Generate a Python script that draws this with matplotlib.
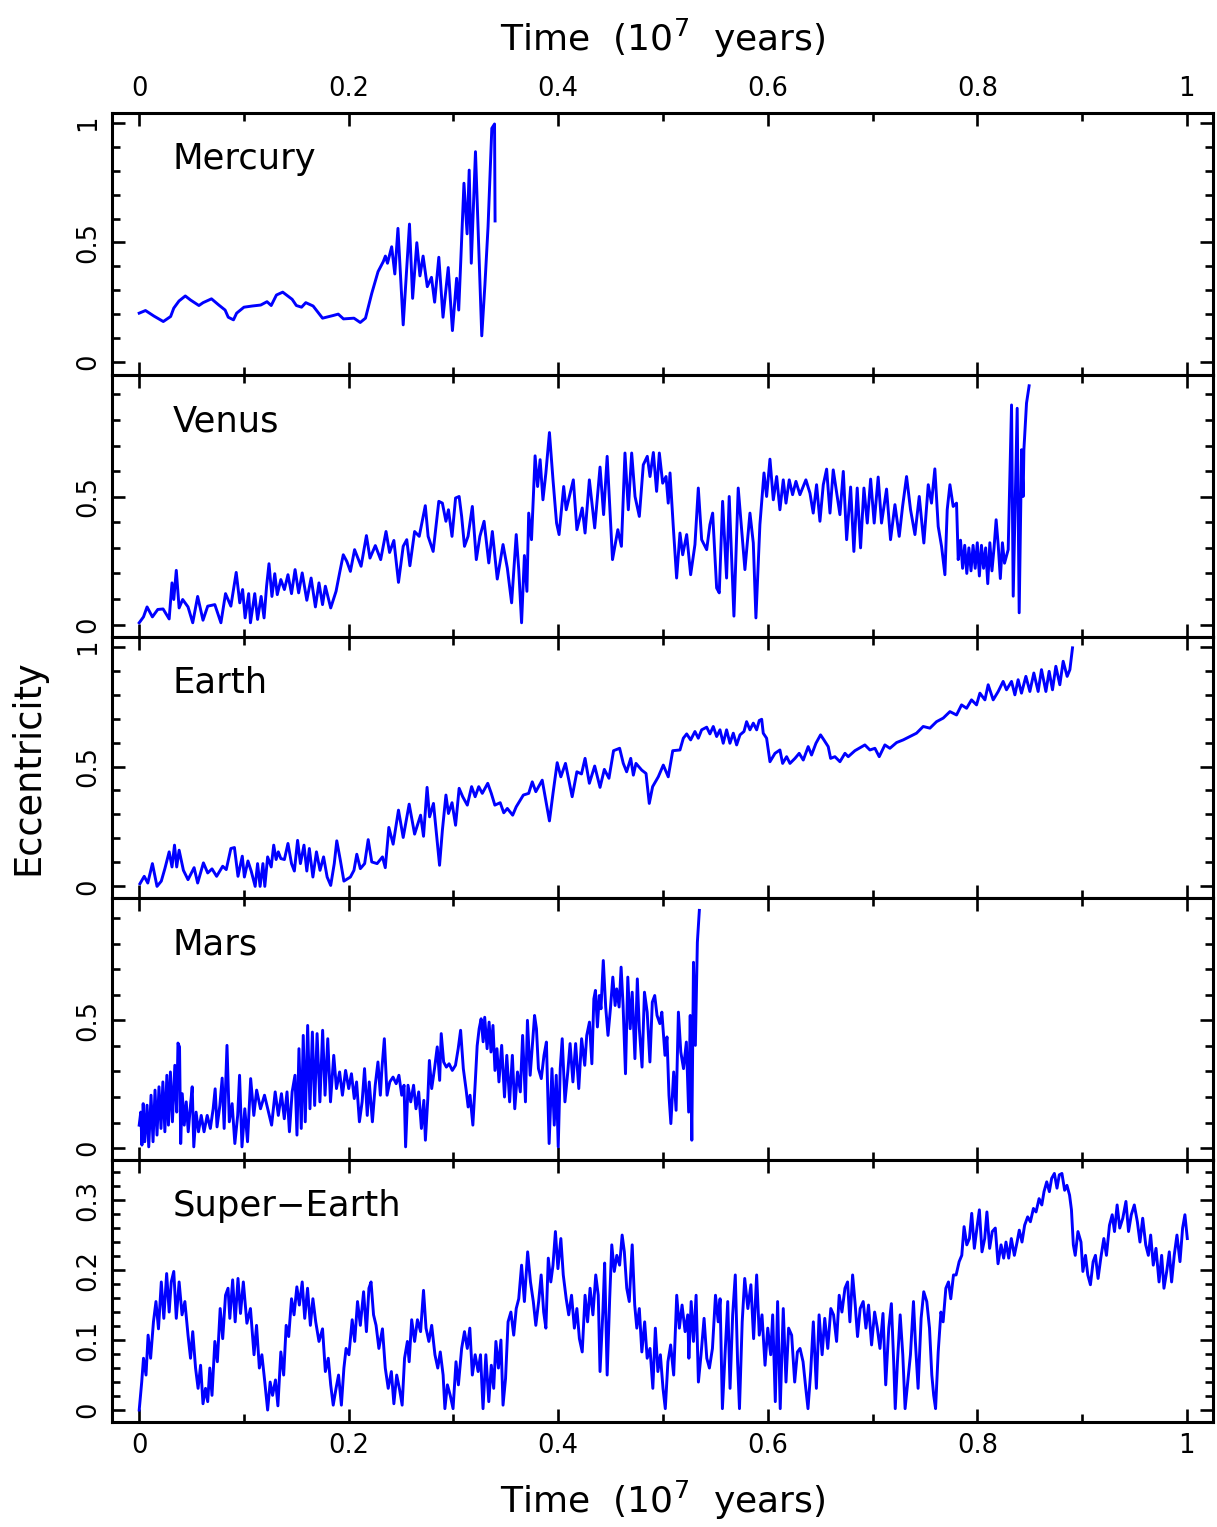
import matplotlib
matplotlib.use('Agg')
import matplotlib.pyplot as plt
from matplotlib.ticker import MultipleLocator, FixedLocator, FixedFormatter

plt.rcParams['font.family'] = 'DejaVu Sans'
plt.rcParams['mathtext.fontset'] = 'dejavusans'

# Tiempo en unidades de 10^7 años, excentricidad
mercury_t = [0.000, 0.006, 0.014, 0.023, 0.030, 0.033, 0.038, 0.044, 0.049, 0.057, 0.061, 0.069, 0.076,
             0.082, 0.085, 0.090, 0.093, 0.100, 0.108, 0.116, 0.122, 0.126, 0.131, 0.137, 0.146, 0.150,
             0.155, 0.159, 0.166, 0.175, 0.185, 0.190, 0.195, 0.205, 0.211, 0.216, 0.222, 0.228, 0.233,
             0.235, 0.237, 0.241, 0.244, 0.247, 0.252, 0.258, 0.261, 0.265, 0.268, 0.271, 0.275, 0.279,
             0.282, 0.286, 0.290, 0.295, 0.299, 0.303, 0.305, 0.307, 0.310, 0.313, 0.315, 0.317, 0.321,
             0.327, 0.330, 0.333, 0.3366, 0.3392, 0.3397]
mercury_e = [0.204, 0.215, 0.192, 0.169, 0.190, 0.225, 0.255, 0.276, 0.259, 0.236, 0.248, 0.264, 0.238,
             0.217, 0.187, 0.176, 0.204, 0.229, 0.234, 0.238, 0.252, 0.236, 0.280, 0.292, 0.262, 0.236,
             0.229, 0.248, 0.234, 0.183, 0.194, 0.200, 0.180, 0.183, 0.165, 0.183, 0.287, 0.378, 0.420,
             0.443, 0.413, 0.482, 0.368, 0.559, 0.155, 0.577, 0.266, 0.499, 0.360, 0.443, 0.315, 0.354,
             0.250, 0.438, 0.187, 0.395, 0.131, 0.350, 0.217, 0.427, 0.748, 0.536, 0.803, 0.413, 0.880,
             0.109, 0.322, 0.566, 0.978, 0.996, 0.590]

venus_t = [0.000, 0.0041, 0.0075, 0.0126, 0.0177, 0.0228, 0.0286, 0.0313, 0.033, 0.0354, 0.0381, 0.0415,
           0.0466, 0.0511, 0.0558, 0.0609, 0.0654, 0.0722, 0.078, 0.0824, 0.0875, 0.0926, 0.096, 0.0987,
           0.1011, 0.1045, 0.1062, 0.1103, 0.113, 0.1164, 0.1192, 0.1216, 0.1239, 0.1267, 0.1294, 0.1318,
           0.1352, 0.1386, 0.142, 0.1454, 0.1488, 0.1522, 0.1556, 0.160, 0.1641, 0.1682, 0.1716, 0.175,
           0.1777, 0.1828, 0.1879, 0.1914, 0.1948, 0.1982, 0.2016, 0.2056, 0.2118, 0.2169, 0.2203, 0.2254,
           0.2305, 0.2356, 0.239, 0.2431, 0.2475, 0.252, 0.2554, 0.2584, 0.2629, 0.2673, 0.2731, 0.2758,
           0.2806, 0.286, 0.2894, 0.2928, 0.2952, 0.2986, 0.302, 0.3054, 0.3078, 0.3105, 0.3139, 0.318,
           0.3218, 0.3252, 0.3292, 0.3337, 0.3371, 0.3418, 0.3473, 0.3514, 0.3555, 0.3599, 0.3623, 0.365,
           0.3677, 0.3701, 0.3718, 0.3745, 0.3779, 0.3803, 0.3827, 0.3854, 0.3882, 0.3916, 0.395, 0.3984,
           0.4008, 0.4052, 0.4076, 0.4144, 0.4178, 0.4229, 0.4256, 0.4297, 0.4348, 0.4399, 0.4433, 0.4467,
           0.4518, 0.4569, 0.4603,
           0.4637, 0.4669, 0.4701, 0.4733, 0.4774, 0.4812, 0.485, 0.4876, 0.4908, 0.4939, 0.4965, 0.4997,
           0.5029, 0.505, 0.5067, 0.5098, 0.513, 0.5162, 0.5188, 0.5226, 0.5264, 0.5305, 0.5337, 0.5369,
           0.5417, 0.5448, 0.5474, 0.5512, 0.5537, 0.5569, 0.5607, 0.5632, 0.5677, 0.5718, 0.5782, 0.583,
           0.5862, 0.5887, 0.5925, 0.5964, 0.5989, 0.6021, 0.6053, 0.6085, 0.6116, 0.6148, 0.6174, 0.6205,
           0.6237, 0.6269, 0.6307, 0.6364, 0.6403, 0.6434, 0.6466, 0.6498, 0.653, 0.6562, 0.6594, 0.6625,
           0.6663, 0.6689, 0.6721, 0.6753, 0.6791, 0.6822, 0.6854, 0.6886, 0.6918, 0.695, 0.6982, 0.7016,
           0.7054, 0.7086, 0.7134, 0.7172, 0.7214, 0.7255, 0.7287, 0.7325, 0.7363, 0.7405, 0.7446, 0.749,
           0.7532, 0.7563, 0.7595, 0.7627, 0.7659, 0.7691, 0.7713, 0.7739, 0.777, 0.7802, 0.7818,
           0.784, 0.786, 0.788, 0.790, 0.792, 0.794, 0.796, 0.798, 0.800, 0.802, 0.804, 0.806, 0.808,
           0.810, 0.812, 0.814, 0.816, 0.818, 0.820, 0.822, 0.824, 0.826,
           0.8295, 0.8327, 0.8343, 0.8381, 0.840, 0.8423, 0.8438, 0.8445, 0.847, 0.8495]
venus_e = [0.007, 0.030, 0.069, 0.030, 0.059, 0.061, 0.022, 0.163, 0.098, 0.212, 0.065, 0.098,
           0.069, 0.007, 0.110, 0.017, 0.072, 0.078, 0.007, 0.121, 0.072, 0.204, 0.085, 0.137,
           0.026, 0.121, 0.007, 0.121, 0.020, 0.110, 0.026, 0.150, 0.238, 0.110, 0.199, 0.117,
           0.176, 0.137, 0.195, 0.121, 0.215, 0.124, 0.202, 0.095, 0.182, 0.069, 0.163, 0.078,
           0.150, 0.065, 0.130, 0.204, 0.273, 0.247, 0.208, 0.293, 0.228, 0.348, 0.260, 0.309,
           0.254, 0.364, 0.282, 0.329, 0.165, 0.306, 0.332, 0.230, 0.364, 0.345, 0.465, 0.345,
           0.286, 0.482, 0.475, 0.404, 0.449, 0.345, 0.495, 0.501, 0.423, 0.306, 0.345, 0.462,
           0.254, 0.345, 0.404, 0.241, 0.364, 0.178, 0.313, 0.221, 0.085, 0.352, 0.215, 0.007,
           0.270, 0.130, 0.436, 0.332, 0.660, 0.540, 0.645, 0.488, 0.593, 0.751, 0.566, 0.397,
           0.352, 0.540, 0.449, 0.566, 0.371, 0.456, 0.358, 0.566, 0.378, 0.616, 0.430, 0.658,
           0.254, 0.371, 0.306,
           0.671, 0.449, 0.671, 0.501, 0.423, 0.625, 0.658, 0.579, 0.673, 0.521, 0.671, 0.553,
           0.579, 0.475, 0.593, 0.384, 0.182, 0.358, 0.273, 0.352, 0.195, 0.313, 0.534, 0.332,
           0.293, 0.391, 0.436, 0.143, 0.124, 0.482, 0.182, 0.501, 0.033, 0.534, 0.215, 0.436,
           0.319, 0.026, 0.391, 0.593, 0.501, 0.647, 0.488, 0.579, 0.449, 0.566, 0.475, 0.566,
           0.508, 0.560, 0.508, 0.566, 0.514, 0.436, 0.547, 0.404, 0.547, 0.608, 0.436, 0.605,
           0.501, 0.430, 0.599, 0.332, 0.538, 0.286, 0.534, 0.300, 0.534, 0.397, 0.569, 0.397,
           0.577, 0.397, 0.530, 0.332, 0.469, 0.345, 0.462, 0.579, 0.449, 0.352, 0.501, 0.319,
           0.547, 0.475, 0.609, 0.384, 0.306, 0.195, 0.449, 0.547, 0.462, 0.475, 0.254,
           0.33, 0.22, 0.31, 0.20, 0.30, 0.21, 0.31, 0.22, 0.32, 0.19, 0.31, 0.22, 0.30,
           0.16, 0.32, 0.21, 0.30, 0.41, 0.31, 0.18, 0.32, 0.24,
           0.293, 0.859, 0.111, 0.846, 0.046, 0.684, 0.501, 0.684, 0.866, 0.934]

earth_t = [0.0007, 0.0048, 0.0082, 0.0126, 0.017, 0.0211, 0.0245, 0.0286, 0.0313, 0.0337, 0.0358, 0.0381,
           0.0422, 0.0466, 0.0524, 0.0558, 0.0613, 0.0654, 0.0695, 0.0739, 0.0797, 0.0831, 0.0875, 0.0909,
           0.0943, 0.0984, 0.1004, 0.1038, 0.1069, 0.1107, 0.113, 0.1154, 0.1181, 0.1199, 0.1226, 0.126,
           0.1284, 0.1307, 0.1328, 0.1352, 0.1386, 0.142, 0.1454, 0.1481, 0.1512, 0.1539, 0.1573, 0.160,
           0.1624, 0.1658, 0.1692, 0.1726, 0.176, 0.1794, 0.1828, 0.1862, 0.1886, 0.192, 0.1954, 0.2016,
           0.205, 0.2077, 0.2111, 0.2152, 0.2186, 0.222, 0.2271, 0.2322, 0.2349, 0.2383, 0.2424, 0.2475,
           0.252, 0.2577, 0.2629, 0.2686, 0.2714, 0.2748, 0.2772, 0.2809, 0.284, 0.2867, 0.2894, 0.2928,
           0.2952, 0.2986, 0.302, 0.3054, 0.3088, 0.3132, 0.3173, 0.3207, 0.3241, 0.3275, 0.3327, 0.3361,
           0.3395, 0.3446, 0.348, 0.3514, 0.3565, 0.3599, 0.3667, 0.3718, 0.3752, 0.3786, 0.3847, 0.3916,
           0.395, 0.399, 0.4025, 0.4069, 0.4133, 0.4178, 0.4222, 0.4256, 0.4297, 0.4348, 0.4399, 0.444,
           0.4484, 0.4528, 0.4586,
           0.4621, 0.4653, 0.4692, 0.4717, 0.4742, 0.4797, 0.4838, 0.4869, 0.4901, 0.4955, 0.5003, 0.505,
           0.5093, 0.5162, 0.5194, 0.5226, 0.5264, 0.5305, 0.5337, 0.5369, 0.5417, 0.5448, 0.548, 0.5512,
           0.5544, 0.5575, 0.5607, 0.5639, 0.5671, 0.5703, 0.5735, 0.5773, 0.5798, 0.583, 0.5862, 0.5894,
           0.5919, 0.5942, 0.5957, 0.5989, 0.6021, 0.6069, 0.6116, 0.6142, 0.618, 0.6212, 0.626, 0.630,
           0.6339, 0.6386, 0.6418, 0.646, 0.6504, 0.6536, 0.6577, 0.660, 0.6641, 0.6689, 0.6737, 0.6768,
           0.6832, 0.6927, 0.6975, 0.7023, 0.7064, 0.7118, 0.7166, 0.723, 0.7293, 0.7357, 0.742, 0.7484,
           0.7548, 0.7611, 0.7675, 0.7739, 0.7802, 0.785, 0.7898, 0.7945, 0.7993, 0.8025, 0.8073, 0.8104,
           0.8152, 0.820, 0.8247, 0.8279, 0.8327, 0.8359, 0.839, 0.8422, 0.8464, 0.8502, 0.854, 0.8581,
           0.8613, 0.8655, 0.8686, 0.8718, 0.875, 0.8788, 0.882, 0.8858, 0.8884, 0.8909]
earth_e = [0.011, 0.042, 0.014, 0.095, 0.000, 0.022, 0.074, 0.144, 0.081, 0.172, 0.081, 0.151,
           0.067, 0.028, 0.078, 0.014, 0.098, 0.056, 0.073, 0.042, 0.084, 0.070, 0.158, 0.162,
           0.042, 0.126, 0.039, 0.106, 0.064, 0.000, 0.095, 0.000, 0.095, 0.000, 0.123, 0.081,
           0.172, 0.112, 0.144, 0.116, 0.112, 0.179, 0.095, 0.064, 0.192, 0.095, 0.172, 0.064,
           0.158, 0.039, 0.144, 0.067, 0.123, 0.039, 0.004, 0.095, 0.190, 0.109, 0.022, 0.039,
           0.067, 0.134, 0.074, 0.095, 0.195, 0.102, 0.095, 0.123, 0.078, 0.246, 0.176, 0.318,
           0.204, 0.343, 0.218, 0.297, 0.209, 0.413, 0.290, 0.346, 0.206, 0.088, 0.234, 0.381,
           0.304, 0.349, 0.255, 0.409, 0.374, 0.339, 0.416, 0.374, 0.416, 0.388, 0.430, 0.388,
           0.339, 0.349, 0.307, 0.325, 0.297, 0.332, 0.381, 0.388, 0.436, 0.395, 0.443, 0.273,
           0.388, 0.516, 0.457, 0.513, 0.374, 0.478, 0.469, 0.534, 0.430, 0.502, 0.413, 0.488,
           0.451, 0.566, 0.576,
           0.513, 0.478, 0.534, 0.464, 0.513, 0.485, 0.471, 0.346, 0.416, 0.457, 0.506, 0.457,
           0.566, 0.569, 0.618, 0.636, 0.611, 0.646, 0.618, 0.653, 0.664, 0.636, 0.667, 0.625,
           0.653, 0.597, 0.653, 0.597, 0.639, 0.590, 0.632, 0.646, 0.687, 0.653, 0.681, 0.653,
           0.692, 0.697, 0.639, 0.618, 0.520, 0.555, 0.569, 0.513, 0.541, 0.513, 0.534, 0.555,
           0.527, 0.583, 0.548, 0.597, 0.632, 0.611, 0.583, 0.534, 0.541, 0.520, 0.555, 0.541,
           0.566, 0.590, 0.569, 0.576, 0.541, 0.590, 0.576, 0.600, 0.611, 0.625, 0.639, 0.667,
           0.660, 0.687, 0.702, 0.729, 0.715, 0.757, 0.743, 0.778, 0.757, 0.806, 0.778, 0.841,
           0.778, 0.813, 0.855, 0.820, 0.855, 0.799, 0.862, 0.806, 0.876, 0.813, 0.890, 0.813,
           0.904, 0.813, 0.897, 0.820, 0.918, 0.841, 0.939, 0.876, 0.904, 0.995]

mars_t = [0.000, 0.0015, 0.0026, 0.0038, 0.0053, 0.0075, 0.0091, 0.0113, 0.0132, 0.0151, 0.017, 0.0189,
          0.0208, 0.0226, 0.0245, 0.0264, 0.0279, 0.0298, 0.0317, 0.034, 0.0358, 0.037, 0.0385, 0.0396,
          0.0411, 0.043, 0.0449, 0.0468, 0.0491, 0.0506, 0.0521, 0.0543, 0.0566, 0.0592, 0.0619, 0.0649,
          0.0679, 0.0706, 0.0725, 0.0743, 0.077, 0.0792, 0.0811, 0.0838, 0.086, 0.0887, 0.0913, 0.094,
          0.0958, 0.0981, 0.1008, 0.1034, 0.1064, 0.1094, 0.1121, 0.1158, 0.1196, 0.1234, 0.1264, 0.1298,
          0.1328, 0.1358, 0.1385, 0.1411, 0.1434, 0.146, 0.1487, 0.1506, 0.1525, 0.1547, 0.1566, 0.1585,
          0.1608, 0.163, 0.1653, 0.1675, 0.1698, 0.1725, 0.1751, 0.1774, 0.180, 0.1826, 0.1857, 0.1883,
          0.1913, 0.194, 0.197, 0.200, 0.2026, 0.2053, 0.2075, 0.2102, 0.2128, 0.2151, 0.2177, 0.2196,
          0.2226, 0.2253, 0.2279, 0.2302, 0.2317, 0.234, 0.2366, 0.2392, 0.2423, 0.2453, 0.2479, 0.2506,
          0.2528, 0.2543, 0.2566, 0.2592, 0.2619, 0.2642, 0.2668, 0.2694, 0.2717, 0.2732, 0.2755, 0.277,
          0.2792, 0.2819, 0.2845, 0.2868, 0.2883, 0.2906, 0.2932, 0.2958, 0.2989, 0.3019, 0.3045, 0.3068,
          0.3094, 0.3121, 0.314, 0.3158, 0.3185, 0.3208, 0.3226, 0.3245, 0.3264, 0.3283, 0.3298, 0.3321,
          0.334, 0.3358, 0.3377, 0.3396, 0.3415, 0.3434, 0.346, 0.3487, 0.3509, 0.3536, 0.3562, 0.3585,
          0.3611, 0.3638, 0.366, 0.3687, 0.3706, 0.3732, 0.3755, 0.3774, 0.3792, 0.3811, 0.3838, 0.3864,
          0.3887, 0.3913, 0.394, 0.3962, 0.3981, 0.400, 0.4019, 0.4038, 0.4064, 0.4091, 0.4113, 0.414,
          0.4166, 0.4196, 0.4223, 0.4253, 0.4272, 0.4298, 0.4321, 0.434, 0.4355, 0.4374, 0.4392, 0.4408,
          0.443, 0.4453, 0.4475, 0.4498, 0.4521, 0.4543, 0.4558, 0.4581, 0.460, 0.4619, 0.4642, 0.4664,
          0.4687, 0.4706, 0.4732, 0.4755, 0.4774, 0.480, 0.4823, 0.4849, 0.4875, 0.4898, 0.4921, 0.4943,
          0.497, 0.4989, 0.5019, 0.5038, 0.5057, 0.5075, 0.5102, 0.5125, 0.5147, 0.517, 0.5196, 0.5223,
          0.5245, 0.526, 0.5275, 0.5291, 0.5309, 0.5328, 0.5347]
mars_e = [0.090, 0.141, 0.012, 0.174, 0.025, 0.168, 0.005, 0.207, 0.025, 0.227, 0.051, 0.240,
          0.077, 0.259, 0.064, 0.285, 0.090, 0.298, 0.103, 0.324, 0.141, 0.411, 0.396, 0.018,
          0.213, 0.090, 0.181, 0.064, 0.174, 0.240, 0.005, 0.141, 0.064, 0.128, 0.064, 0.128,
          0.077, 0.154, 0.232, 0.083, 0.167, 0.274, 0.077, 0.402, 0.103, 0.174, 0.018, 0.128,
          0.285, 0.005, 0.154, 0.025, 0.272, 0.128, 0.227, 0.154, 0.207, 0.141, 0.090, 0.220,
          0.128, 0.213, 0.115, 0.220, 0.064, 0.220, 0.285, 0.051, 0.389, 0.077, 0.441, 0.103,
          0.480, 0.154, 0.454, 0.167, 0.448, 0.181, 0.461, 0.207, 0.428, 0.181, 0.363, 0.233,
          0.298, 0.207, 0.304, 0.233, 0.291, 0.194, 0.259, 0.103, 0.181, 0.311, 0.128, 0.259,
          0.103, 0.246, 0.337, 0.207, 0.311, 0.428, 0.207, 0.259, 0.278, 0.252, 0.285, 0.207,
          0.246, 0.005, 0.246, 0.181, 0.246, 0.154, 0.220, 0.077, 0.187, 0.031, 0.194, 0.343,
          0.233, 0.311, 0.396, 0.265, 0.448, 0.337, 0.317, 0.330, 0.304, 0.324, 0.389, 0.461,
          0.311, 0.227, 0.161, 0.207, 0.090, 0.259, 0.400, 0.467, 0.506, 0.416, 0.512, 0.389,
          0.493, 0.376, 0.480, 0.304, 0.389, 0.259, 0.402, 0.200, 0.363, 0.181, 0.363, 0.154,
          0.298, 0.220, 0.441, 0.181, 0.500, 0.285, 0.415, 0.519, 0.467, 0.311, 0.272, 0.363,
          0.415, 0.018, 0.311, 0.090, 0.285, 0.005, 0.311, 0.428, 0.181, 0.298, 0.409, 0.259,
          0.409, 0.233, 0.428, 0.324, 0.441, 0.493, 0.330, 0.584, 0.617, 0.474, 0.597, 0.545,
          0.734, 0.552, 0.441, 0.545, 0.669, 0.558, 0.623, 0.552, 0.708, 0.558, 0.291, 0.669,
          0.467, 0.610, 0.350, 0.662, 0.467, 0.317, 0.610, 0.532, 0.337, 0.571, 0.597, 0.519,
          0.487, 0.532, 0.363, 0.435, 0.207, 0.096, 0.298, 0.148, 0.532, 0.376, 0.311, 0.415,
          0.141, 0.519, 0.031, 0.727, 0.402, 0.805, 0.930]

superearth_t = [0.000, 0.0024, 0.0041, 0.0065, 0.0085, 0.0109, 0.0136, 0.016, 0.0184, 0.0211, 0.0235,
                0.0262, 0.0286, 0.0306, 0.033, 0.0354, 0.0381, 0.0409, 0.0436, 0.0466, 0.049, 0.0511,
                0.0538, 0.0562, 0.0586, 0.0609, 0.0633, 0.0654, 0.0674, 0.0695, 0.0722, 0.0746, 0.0773,
                0.0797, 0.0824, 0.0848, 0.0865, 0.0892, 0.0916, 0.0943, 0.0967, 0.0994, 0.1028, 0.1062,
                0.1096, 0.112, 0.1147, 0.1171, 0.1199, 0.1226, 0.125, 0.1273, 0.1301, 0.1324, 0.1352,
                0.1379, 0.1403, 0.1427, 0.1454, 0.1478, 0.1505, 0.1529, 0.1556, 0.158, 0.1607, 0.1634,
                0.1658, 0.1685, 0.1716, 0.175, 0.1777, 0.1805, 0.1828, 0.1852, 0.1879, 0.1903, 0.193,
                0.1954, 0.1975, 0.2002, 0.2033, 0.2057, 0.2084, 0.2111, 0.2142, 0.2169, 0.2193, 0.2213,
                0.2237, 0.2261, 0.2288, 0.2322, 0.2349, 0.2377, 0.2407, 0.2431, 0.2458, 0.2486, 0.251,
                0.2533, 0.256, 0.2577, 0.2601, 0.2629, 0.2656, 0.2686, 0.2714, 0.2738, 0.2765, 0.2792,
                0.2823, 0.285, 0.2874, 0.2901, 0.2918, 0.2942, 0.2969, 0.2996, 0.3024, 0.3047, 0.3078,
                0.3105, 0.3132, 0.3156, 0.318, 0.3207, 0.3235, 0.3258, 0.3282, 0.3309, 0.3337, 0.3361,
                0.3384, 0.3405, 0.3429, 0.3453, 0.3473, 0.3497, 0.3521, 0.3548, 0.3575, 0.3599, 0.3623,
                0.365, 0.3677, 0.3708, 0.3735, 0.3762, 0.3786, 0.3813, 0.3837, 0.3861, 0.3882, 0.3905,
                0.3929, 0.395, 0.3973, 0.3997, 0.4025, 0.4048, 0.4076, 0.410, 0.4127, 0.4154, 0.4178,
                0.4202, 0.4229, 0.4256, 0.428, 0.4304, 0.4331, 0.4358, 0.4382, 0.4399, 0.4426, 0.4443,
                0.4467, 0.4491, 0.4511, 0.4535, 0.4559, 0.4586, 0.461, 0.4631, 0.4654, 0.4678, 0.4706,
                0.473, 0.475, 0.4774, 0.4798, 0.4825, 0.4849, 0.4876, 0.4903, 0.4927, 0.4951,
                0.4975, 0.500, 0.5022, 0.5047, 0.5073, 0.5102, 0.5131, 0.5156, 0.5182, 0.5211, 0.5236,
                0.5247, 0.5269, 0.5291, 0.5316, 0.5338, 0.5363, 0.5392, 0.5418, 0.5443, 0.5472, 0.5501,
                0.5527, 0.5545, 0.5567, 0.5592, 0.5618, 0.564, 0.5665, 0.569, 0.5712, 0.573, 0.5756,
                0.578, 0.581, 0.5839, 0.5865, 0.5894, 0.5919, 0.5945, 0.5974, 0.600, 0.6028, 0.6047,
                0.6072, 0.6094, 0.6119, 0.6148, 0.6174, 0.6199, 0.6228, 0.6257, 0.6283, 0.6308, 0.6337,
                0.6363, 0.6384, 0.641, 0.6435, 0.6464, 0.649, 0.6519, 0.6544, 0.6573, 0.6602, 0.6628,
                0.6657, 0.6682, 0.6708, 0.6737, 0.6762, 0.6784, 0.681, 0.6835, 0.6857, 0.6882, 0.6911,
                0.6937, 0.6962, 0.6991, 0.702, 0.7046, 0.7071, 0.710, 0.7126, 0.7155, 0.718, 0.7202,
                0.7217, 0.7238, 0.7264, 0.7289, 0.7311, 0.7336, 0.7362, 0.7391, 0.7409, 0.7435, 0.7464,
                0.7489, 0.7518, 0.7544, 0.7566, 0.7584, 0.7602, 0.7627, 0.7653, 0.7674, 0.770, 0.7725,
                0.7747, 0.7773, 0.7798, 0.7827, 0.7852, 0.7874, 0.790, 0.7925, 0.7947, 0.7972, 0.800,
                0.802, 0.8045, 0.8071, 0.8092, 0.8118, 0.8143, 0.8172, 0.8198, 0.8227, 0.8252, 0.8274,
                0.830, 0.8325, 0.8354, 0.838, 0.8401, 0.8427, 0.8452, 0.8481, 0.8507, 0.8536, 0.8561,
                0.859, 0.8616, 0.8637, 0.8663, 0.8688, 0.871, 0.8736, 0.8761, 0.8783, 0.8808, 0.8834,
                0.8856, 0.8881, 0.8899, 0.8917, 0.8935, 0.8961, 0.899, 0.9008, 0.9033, 0.9055, 0.908,
                0.9106, 0.9128, 0.9153, 0.9179, 0.9208, 0.9233, 0.9262, 0.9288, 0.931, 0.9335, 0.936,
                0.9389, 0.9419, 0.9444, 0.947, 0.9499, 0.9528, 0.9553, 0.9579, 0.9608, 0.9633, 0.9655,
                0.968, 0.9706, 0.9735, 0.976, 0.9782, 0.9808, 0.9833, 0.9855, 0.988, 0.9906, 0.9935,
                0.996, 0.9982, 1.0005]
superearth_e = [0.000, 0.040, 0.074, 0.050, 0.107, 0.074, 0.126, 0.155, 0.116, 0.183, 0.131,
                0.195, 0.140, 0.183, 0.198, 0.131, 0.183, 0.136, 0.155, 0.107, 0.074, 0.112,
                0.060, 0.031, 0.064, 0.009, 0.031, 0.012, 0.060, 0.021, 0.098, 0.069, 0.145,
                0.102, 0.164, 0.174, 0.131, 0.186, 0.126, 0.188, 0.138, 0.183, 0.124, 0.145,
                0.079, 0.121, 0.060, 0.079, 0.040, 0.000, 0.040, 0.021, 0.043, 0.006, 0.083,
                0.050, 0.121, 0.105, 0.159, 0.136, 0.176, 0.150, 0.183, 0.131, 0.174, 0.121,
                0.159, 0.126, 0.098, 0.116, 0.055, 0.074, 0.036, 0.007, 0.031, 0.050, 0.007,
                0.060, 0.088, 0.079, 0.129, 0.098, 0.155, 0.121, 0.169, 0.112, 0.174, 0.183,
                0.136, 0.121, 0.088, 0.116, 0.060, 0.031, 0.055, 0.009, 0.050, 0.029, 0.007,
                0.074, 0.098, 0.069, 0.129, 0.098, 0.129, 0.112, 0.171, 0.117, 0.098, 0.121,
                0.079, 0.060, 0.083, 0.050, 0.002, 0.036, 0.021, 0.002, 0.069, 0.036, 0.088,
                0.112, 0.088, 0.117, 0.050, 0.079, 0.055, 0.079, 0.002, 0.079, 0.012, 0.064,
                0.031, 0.098, 0.060, 0.100, 0.007, 0.045, 0.126, 0.140, 0.107, 0.145, 0.159,
                0.207, 0.155, 0.226, 0.183, 0.155, 0.121, 0.155, 0.193, 0.140, 0.117, 0.217,
                0.183, 0.207, 0.255, 0.202, 0.245, 0.193, 0.159, 0.136, 0.164, 0.117, 0.145,
                0.102, 0.083, 0.164, 0.126, 0.174, 0.136, 0.193, 0.164, 0.055, 0.140, 0.210,
                0.050, 0.159, 0.236, 0.198, 0.221, 0.207, 0.250, 0.226, 0.174, 0.155, 0.236,
                0.150, 0.117, 0.145, 0.083, 0.126, 0.074, 0.088, 0.031, 0.117, 0.055,
                0.079, 0.031, 0.002, 0.069, 0.093, 0.050, 0.164, 0.117, 0.150, 0.112, 0.136,
                0.074, 0.155, 0.098, 0.164, 0.040, 0.079, 0.131, 0.074, 0.060, 0.088, 0.164,
                0.126, 0.159, 0.002, 0.079, 0.155, 0.031, 0.136, 0.193, 0.069, 0.002, 0.126,
                0.188, 0.145, 0.179, 0.102, 0.193, 0.107, 0.136, 0.064, 0.117, 0.079, 0.136,
                0.012, 0.155, 0.002, 0.145, 0.040, 0.117, 0.107, 0.040, 0.083, 0.088, 0.069,
                0.031, 0.002, 0.055, 0.126, 0.031, 0.136, 0.079, 0.131, 0.088, 0.145, 0.136,
                0.098, 0.164, 0.140, 0.174, 0.183, 0.126, 0.193, 0.150, 0.105, 0.145, 0.155,
                0.117, 0.150, 0.093, 0.140, 0.117, 0.088, 0.138, 0.036, 0.117, 0.152, 0.069,
                0.002, 0.069, 0.136, 0.079, 0.002, 0.040, 0.079, 0.155, 0.098, 0.031, 0.131,
                0.169, 0.155, 0.117, 0.050, 0.021, 0.002, 0.083, 0.140, 0.126, 0.174, 0.183,
                0.159, 0.193, 0.193, 0.212, 0.221, 0.262, 0.236, 0.245, 0.281, 0.231, 0.264,
                0.286, 0.226, 0.245, 0.283, 0.231, 0.255, 0.260, 0.209, 0.236, 0.217, 0.240,
                0.217, 0.245, 0.221, 0.240, 0.257, 0.240, 0.264, 0.276, 0.269, 0.288, 0.283,
                0.302, 0.293, 0.312, 0.326, 0.312, 0.331, 0.338, 0.317, 0.336, 0.338, 0.314,
                0.321, 0.307, 0.286, 0.236, 0.221, 0.255, 0.240, 0.198, 0.221, 0.193, 0.179,
                0.212, 0.221, 0.188, 0.217, 0.245, 0.221, 0.264, 0.279, 0.255, 0.293, 0.260,
                0.274, 0.298, 0.255, 0.279, 0.293, 0.269, 0.240, 0.274, 0.236, 0.221, 0.250,
                0.207, 0.231, 0.183, 0.221, 0.174, 0.198, 0.226, 0.183, 0.221, 0.250, 0.212,
                0.260, 0.279, 0.245]

x_major = [0, 0.2, 0.4, 0.6, 0.8, 1]
x_labels = ['0', '0.2', '0.4', '0.6', '0.8', '1']

panels = [
    ('Mercury', mercury_t, mercury_e, (-0.054, 1.042), [0, 0.5, 1], ['0', '0.5', '1'], 0.1),
    ('Venus', venus_t, venus_e, (-0.047, 0.977), [0, 0.5], ['0', '0.5'], 0.1),
    ('Earth', earth_t, earth_e, (-0.050, 1.042), [0, 0.5, 1], ['0', '0.5', '1'], 0.1),
    ('Mars', mars_t, mars_e, (-0.047, 0.977), [0, 0.5], ['0', '0.5'], 0.1),
    ('Super\u2212Earth', superearth_t, superearth_e, (-0.017, 0.357), [0, 0.1, 0.2, 0.3],
     ['0', '0.1', '0.2', '0.3'], 0.02),
]

fig = plt.figure(figsize=(12.17, 15.27), dpi=100)
gs = fig.add_gridspec(5, 1, left=0.092, right=0.9967, top=0.926, bottom=0.0688, hspace=0)
axes = [fig.add_subplot(gs[i]) for i in range(5)]

for i, (ax, (name, t, e, ylim, yt, ytl, ystep)) in enumerate(zip(axes, panels)):
    ax.plot(t, e, color='#0000ff', lw=2.1)
    ax.set_xlim(-0.026, 1.025)
    ax.set_ylim(*ylim)
    ax.xaxis.set_major_locator(FixedLocator(x_major))
    ax.xaxis.set_major_formatter(FixedFormatter(x_labels))
    ax.xaxis.set_minor_locator(MultipleLocator(0.1))
    ax.yaxis.set_major_locator(FixedLocator(yt))
    ax.yaxis.set_major_formatter(FixedFormatter(ytl))
    ax.yaxis.set_minor_locator(MultipleLocator(ystep))
    ax.tick_params(which='both', direction='in', top=True, right=True, width=1.9, labelsize=18.5)
    ax.tick_params(which='major', length=9.5)
    ax.tick_params(which='minor', length=5.5)
    ax.tick_params(axis='x', labelbottom=(i == 4), labeltop=(i == 0), pad=8)
    ax.tick_params(axis='y', labelrotation=90, pad=8)
    plt.setp(ax.get_yticklabels(), va='center')
    for s in ax.spines.values():
        s.set_linewidth(2.2)
    ax.text(0.055, 0.785, name, transform=ax.transAxes, fontsize=25.5, va='baseline')

xc = (0.092 + 0.9967) / 2
fig.text(xc, 1 - 38 / 1527, 'Time  (10$^7$  years)', ha='center', va='center', fontsize=26)
fig.text(xc, 1 - 1500 / 1527, 'Time  (10$^7$  years)', ha='center', va='center', fontsize=26)
fig.text(28 / 1217, 1 - 767 / 1527, 'Eccentricity', ha='center', va='center', rotation=90, fontsize=26.5)

fig.savefig('out.png', dpi=100)
